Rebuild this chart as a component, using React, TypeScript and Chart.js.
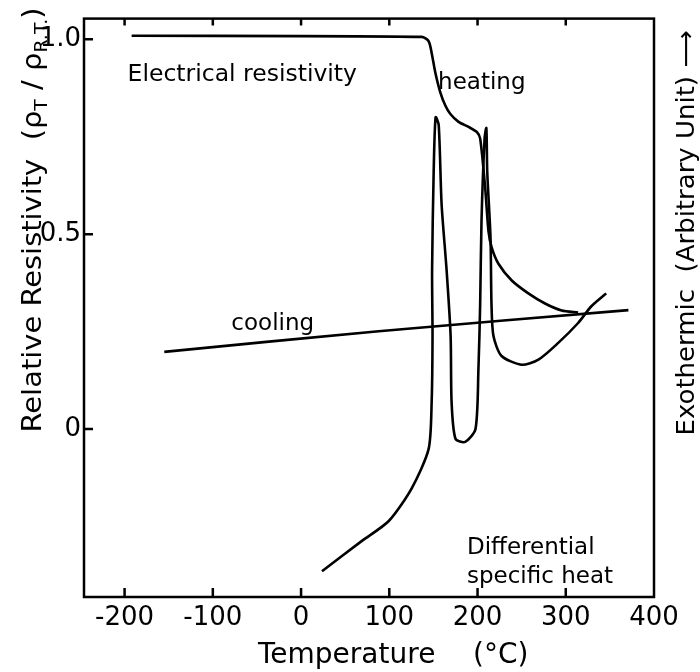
import React, { useEffect, useRef } from 'react';
import { Chart, registerables } from 'chart.js';

Chart.register(...registerables);

// ---- Data ----
// Electrical resistivity, heating run
const heatTemps = [-192, 136.7, 144.6, 148, 152.2, 157.8, 163.5, 169, 178.5, 189.8, 199.2, 203, 208.7, 212.4, 216, 223.7, 238.8, 257.6, 276.5, 295.3, 314];
const heatValues = [1.009, 1.006, 0.995, 0.965, 0.914, 0.864, 0.83, 0.809, 0.788, 0.775, 0.762, 0.745, 0.618, 0.508, 0.466, 0.424, 0.381, 0.348, 0.322, 0.304, 0.299];

// Electrical resistivity, cooling run
const coolTemps = [-155, 88, 371];
const coolValues = [0.198, 0.251, 0.305];

// Differential specific heat (arbitrary unit, plotted on the same axis)
const dscTemps = [23.7, 69, 99.4, 125.4, 144.6, 148, 149, 148.5, 150.3, 152.5, 156, 159.3, 165, 169.5, 170.6, 175, 186, 197.7, 201, 203, 204.5, 208, 210, 211, 214.7, 215.8, 218, 227, 249.7, 269, 291.5, 314, 329, 345.8];
const dscValues = [-0.365, -0.287, -0.236, -0.152, -0.051, 0.069, 0.239, 0.406, 0.66, 0.8, 0.78, 0.576, 0.406, 0.239, 0.069, -0.025, -0.033, 0.0, 0.152, 0.322, 0.533, 0.746, 0.772, 0.66, 0.492, 0.322, 0.239, 0.188, 0.165, 0.178, 0.221, 0.272, 0.315, 0.348];

// Tick values / labels
const xTickValues = [-200, -100, 0, 100, 200, 300, 400];
const yTickValues = [0, 0.5, 1.0];
const yTickLabels = ['0', '0.5', '1.0'];

// Texts
const xTitleWord = 'Temperature';
const xTitleUnit = '(°C)';
const rightTitle = 'Exothermic  (Arbitrary Unit) ⟶';
const annotationTexts = ['Electrical resistivity', 'heating', 'cooling', 'Differential', 'specific heat'];
const annotationX = [-196.6, 155.3, -79, 188, 188];
const annotationY = [0.893, 0.873, 0.254, -0.32, -0.396];

const FONT = '"DejaVu Sans", "Noto Sans", sans-serif';

const pairs = (xs: number[], ys: number[]) => xs.map((x, i) => ({ x, y: ys[i] }));

const decorPlugin = {
  id: 'decor',
  afterDraw(chart: any) {
    const { ctx, chartArea: a, scales } = chart;
    const xs = scales.x;
    const ys = scales.y;
    ctx.save();
    ctx.strokeStyle = '#000';
    ctx.fillStyle = '#000';
    ctx.lineWidth = 2.5;
    ctx.lineCap = 'butt';
    // frame
    ctx.strokeRect(a.left, a.top, a.right - a.left, a.bottom - a.top);
    // inward tick marks
    ctx.beginPath();
    xTickValues.forEach((v) => {
      const px = xs.getPixelForValue(v);
      if (px > a.left + 3 && px < a.right - 3) {
        ctx.moveTo(px, a.bottom);
        ctx.lineTo(px, a.bottom - 9);
        ctx.moveTo(px, a.top);
        ctx.lineTo(px, a.top + 7);
      }
    });
    yTickValues.forEach((v) => {
      const py = ys.getPixelForValue(v);
      ctx.moveTo(a.left, py);
      ctx.lineTo(a.left + 9, py);
    });
    ctx.stroke();

    // in-plot annotations
    ctx.textBaseline = 'alphabetic';
    ctx.textAlign = 'left';
    annotationTexts.forEach((t, i) => {
      ctx.font = i === 0 ? `23.5px ${FONT}` : `23px ${FONT}`;
      ctx.fillText(t, xs.getPixelForValue(annotationX[i]), ys.getPixelForValue(annotationY[i]));
    });

    // x-axis title
    ctx.font = `28px ${FONT}`;
    ctx.textAlign = 'left';
    ctx.fillText(xTitleWord, 258, 663);
    ctx.fillText(xTitleUnit, 473, 663);

    // left title, rotated, with subscripts
    const main = `26px ${FONT}`;
    const sub = `17px ${FONT}`;
    const segs: [string, string, number][] = [
      ['Relative Resistivity  (', main, 0],
      ['ρ', main, 0],
      ['T', sub, 6],
      [' / ', main, 0],
      ['ρ', main, 0],
      ['R.T.', sub, 6],
      [')', main, 0],
    ];
    let total = 0;
    segs.forEach(([t, f]) => { ctx.font = f; total += ctx.measureText(t).width; });
    const targetL = 425;
    ctx.save();
    ctx.translate(41, 220);
    ctx.rotate(-Math.PI / 2);
    ctx.scale(targetL / total, 1);
    ctx.textAlign = 'left';
    let cx = -total / 2;
    segs.forEach(([t, f, dy]) => {
      ctx.font = f;
      ctx.fillText(t, cx, dy);
      cx += ctx.measureText(t).width;
    });
    ctx.restore();

    // right title
    ctx.save();
    ctx.font = `25px ${FONT}`;
    const w = ctx.measureText(rightTitle).width;
    ctx.translate(694, 233);
    ctx.rotate(-Math.PI / 2);
    ctx.scale(405 / w, 1);
    ctx.textAlign = 'center';
    ctx.fillText(rightTitle, 0, 0);
    ctx.restore();

    ctx.restore();
  },
};

export default function App() {
  const ref = useRef<HTMLCanvasElement>(null);
  useEffect(() => {
    document.body.style.margin = '0';
    const canvas = ref.current!;
    const line = (xs: number[], ys: number[]) => ({
      data: pairs(xs, ys),
      borderColor: '#000',
      backgroundColor: '#000',
      borderWidth: 2.6,
      pointRadius: 0,
      tension: 0.25,
      fill: false,
    });
    const chart = new Chart(canvas, {
      type: 'line',
      data: {
        datasets: [line(heatTemps, heatValues), line(coolTemps, coolValues), line(dscTemps, dscValues)],
      },
      options: {
        responsive: false,
        animation: false,
        events: [],
        layout: { padding: { top: 12, right: 46, left: 0, bottom: 0 } },
        plugins: { legend: { display: false }, tooltip: { enabled: false } },
        scales: {
          x: {
            type: 'linear',
            min: -246,
            max: 400,
            afterBuildTicks: (s: any) => { s.ticks = xTickValues.map((v) => ({ value: v })); },
            afterFit: (s: any) => { s.height = 75; },
            grid: { display: false, drawTicks: false },
            border: { display: false },
            ticks: {
              color: '#000',
              font: { family: FONT, size: 26 },
              padding: 6,
              maxRotation: 0,
              autoSkip: false,
              callback: (v: any) => String(v),
            },
          },
          y: {
            type: 'linear',
            min: -0.431,
            max: 1.053,
            afterBuildTicks: (s: any) => { s.ticks = yTickValues.map((v) => ({ value: v })); },
            afterFit: (s: any) => { s.width = 84; },
            grid: { display: false, drawTicks: false },
            border: { display: false },
            ticks: {
              color: '#000',
              font: { family: FONT, size: 26 },
              padding: 3,
              autoSkip: false,
              callback: (v: any) => { const i = yTickValues.indexOf(Number(v)); return i >= 0 ? yTickLabels[i] : ''; },
            },
          },
        },
      },
      plugins: [decorPlugin],
    });
    return () => chart.destroy();
  }, []);
  return <canvas ref={ref} width={700} height={672} style={{ display: 'block' }} />;
}
